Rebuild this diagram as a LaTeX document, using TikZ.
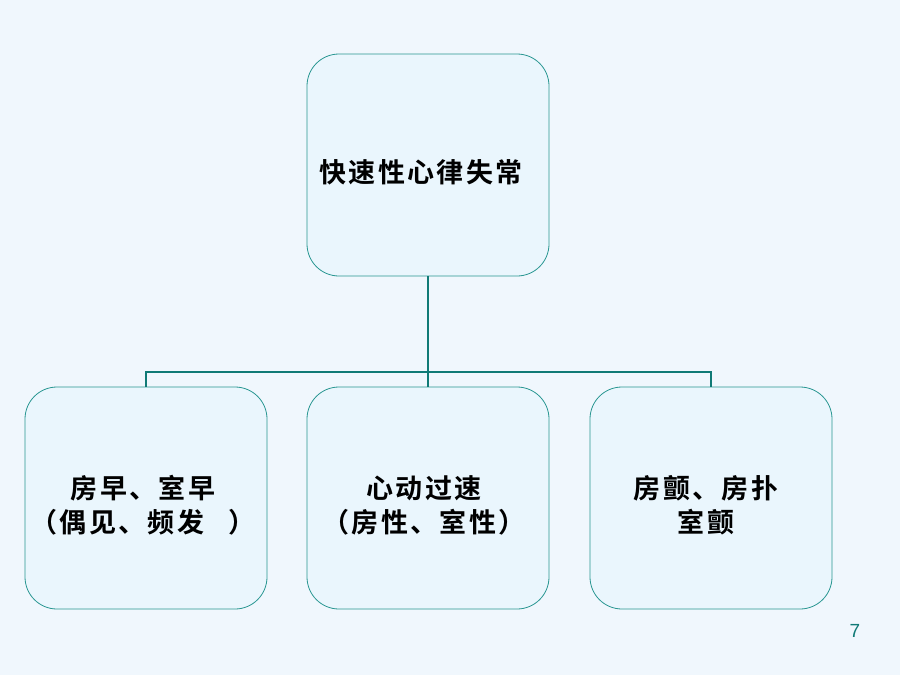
\documentclass[tikz,border=0pt]{standalone}
\usepackage{fontspec}
\newfontfamily\cjk{Noto Sans CJK SC Bold}[LetterSpace=9]
\setmainfont{Liberation Sans}
\definecolor{bg}{RGB}{240,247,253}
\definecolor{boxfill}{RGB}{234,246,253}
\definecolor{boxline}{RGB}{40,150,145}
\definecolor{conn}{RGB}{16,122,118}
\begin{document}
\begin{tikzpicture}[x=1pt,y=-1pt,
  card/.style={draw=boxline,line width=0.8pt,fill=boxfill,rounded corners=32pt,
    minimum width=242pt,minimum height=222pt,inner sep=0pt},
  cardtext/.style={inner sep=0pt,align=center,font=\cjk\fontsize{27}{34}\selectfont},
  link/.style={draw=conn,line width=2.6pt}]
\fill[bg] (0,0) rectangle (900,675);
\useasboundingbox (0,0) rectangle (900,675);
\node[card] (top) at (428,165) {};
\node[card] (left) at (146,498) {};
\node[card] (mid) at (428,498) {};
\node[card] (right) at (711,498) {};
\node[cardtext] (toptext) at (421,172) {快速性心律失常};
\node[cardtext] (lefttext) at (143,505) {房早、室早\\（偶见、频发\hspace{0.9em}）};
\node[cardtext] (midtext) at (424,505) {心动过速\\（房性、室性）};
\node[cardtext] (righttext) at (706,505) {房颤、房扑\\室颤};
\coordinate (j) at (428,372);
\draw[link] (top.south) -- (mid.north);
\draw[link] (j) -| (left.north);
\draw[link] (j) -| (right.north);
\node[text=conn,font=\fontsize{19}{20}\selectfont] (pg) at (855,631) {7};
\end{tikzpicture}
\end{document}
